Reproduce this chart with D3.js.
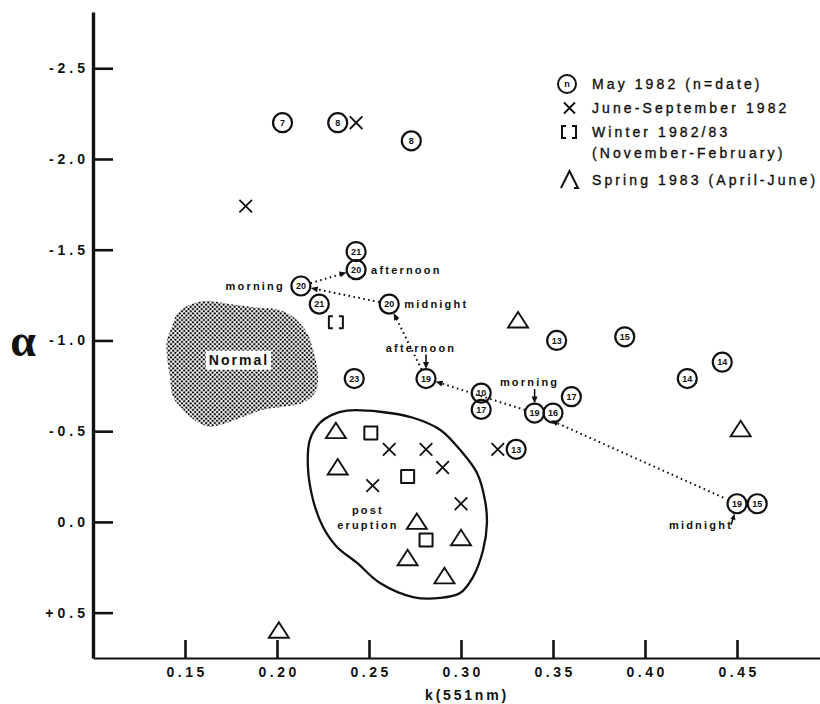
<!DOCTYPE html>
<html><head><meta charset="utf-8">
<script src="https://cdn.jsdelivr.net/npm/d3@7/dist/d3.min.js"></script>
<style>
body{margin:0;background:#fff;}
svg{display:block;font-family:"Liberation Sans",Arial,Helvetica,sans-serif;}
</style></head><body>
<svg id="chart" width="820" height="704"></svg>
<script>
// ---------------- DATA ----------------
const xTicks = [0.15, 0.20, 0.25, 0.30, 0.35, 0.40, 0.45];
const xTickLabels = ["0.15", "0.20", "0.25", "0.30", "0.35", "0.40", "0.45"];
const yTicks = [-2.5, -2.0, -1.5, -1.0, -0.5, 0.0, 0.5];
const yTickLabels = ["-2.5", "-2.0", "-1.5", "-1.0", "-0.5", "0.0", "+0.5"];
const xTitle = "k(551nm)";
const yTitle = "\u03B1";

// May 1982 (n = date): id, day label, k, alpha
const may1982 = [
  {id: "m7",     day: "7",  k: 0.203, a: -2.20},
  {id: "m8a",    day: "8",  k: 0.233, a: -2.20},
  {id: "m8b",    day: "8",  k: 0.273, a: -2.10},
  {id: "m21a",   day: "21", k: 0.243, a: -1.49},
  {id: "m20aft", day: "20", k: 0.243, a: -1.39},
  {id: "m20mor", day: "20", k: 0.213, a: -1.30},
  {id: "m21b",   day: "21", k: 0.223, a: -1.20},
  {id: "m20mid", day: "20", k: 0.261, a: -1.20},
  {id: "m13a",   day: "13", k: 0.352, a: -1.00},
  {id: "m15a",   day: "15", k: 0.389, a: -1.02},
  {id: "m14a",   day: "14", k: 0.442, a: -0.88},
  {id: "m14b",   day: "14", k: 0.423, a: -0.79},
  {id: "m23",    day: "23", k: 0.242, a: -0.79},
  {id: "m19aft", day: "19", k: 0.281, a: -0.79},
  {id: "m10",    day: "10", k: 0.311, a: -0.71},
  {id: "m17a",   day: "17", k: 0.311, a: -0.62},
  {id: "m17b",   day: "17", k: 0.360, a: -0.69},
  {id: "m19mor", day: "19", k: 0.340, a: -0.60},
  {id: "m16",    day: "16", k: 0.350, a: -0.60},
  {id: "m13b",   day: "13", k: 0.330, a: -0.40},
  {id: "m19mid", day: "19", k: 0.450, a: -0.10},
  {id: "m15b",   day: "15", k: 0.461, a: -0.10}
];

// June-September 1982
const juneSep1982 = [
  {k: 0.243, a: -2.20}, {k: 0.183, a: -1.74}, {k: 0.320, a: -0.40},
  {k: 0.261, a: -0.40}, {k: 0.281, a: -0.40}, {k: 0.290, a: -0.30},
  {k: 0.252, a: -0.20}, {k: 0.300, a: -0.10}
];

// Winter 1982/83 (first one drawn as "[ ]")
const winter1982 = [
  {k: 0.232, a: -1.10, bracket: true},
  {k: 0.251, a: -0.49}, {k: 0.271, a: -0.25}, {k: 0.281, a: 0.10}
];

// Spring 1983 (April-June)
const spring1983 = [
  {k: 0.331, a: -1.11}, {k: 0.452, a: -0.51}, {k: 0.232, a: -0.50},
  {k: 0.233, a: -0.30}, {k: 0.276, a: 0.00}, {k: 0.300, a: 0.09},
  {k: 0.271, a: 0.20}, {k: 0.291, a: 0.30}, {k: 0.201, a: 0.60}
];

// diurnal sequence (19 May midnight -> 20 May afternoon)
const diurnalSequence = ["m19mid", "m19mor", "m19aft", "m20mid", "m20mor", "m20aft"];

const annotations = [
  {text: "afternoon", at: "m20aft", side: "right"},
  {text: "midnight",  at: "m20mid", side: "right"},
  {text: "morning",   at: "m20mor", side: "left"},
  {text: "afternoon", at: "m19aft", side: "above"},
  {text: "morning",   at: "m19mor", side: "above"},
  {text: "midnight",  at: "m19mid", side: "below"}
];

// outline of the "Normal" (stippled) region, [k, alpha]
const normalRegion = [
  [0.1462,-1.153],[0.1582,-1.214],[0.1761,-1.198],[0.1891,-1.181],[0.2000,-1.170],
  [0.2087,-1.131],[0.2163,-1.043],[0.2196,-0.949],[0.2217,-0.855],[0.2223,-0.784],
  [0.2207,-0.712],[0.2141,-0.657],[0.2033,-0.635],[0.1924,-0.618],[0.1815,-0.579],
  [0.1728,-0.546],[0.1636,-0.524],[0.1565,-0.552],[0.1489,-0.618],[0.1435,-0.690],
  [0.1418,-0.800],[0.1402,-0.911],[0.1402,-1.004],[0.1429,-1.076]
];
// outline of the "post eruption" region, [k, alpha]
const postEruptionRegion = [
  [0.2299,-0.590],[0.2380,-0.613],[0.2560,-0.607],[0.2739,-0.574],[0.2886,-0.508],
  [0.2995,-0.397],[0.3087,-0.270],[0.3130,-0.121],[0.3141,0.006],[0.3120,0.155],
  [0.3065,0.304],[0.2995,0.392],[0.2886,0.419],[0.2739,0.414],[0.2560,0.337],
  [0.2435,0.226],[0.2326,0.138],[0.2250,0.028],[0.2196,-0.121],[0.2168,-0.304],
  [0.2179,-0.453],[0.2234,-0.546]
];
const regionLabels = [
  {lines: ["Normal"], k: 0.1788, a: -0.894},
  {lines: ["post", "eruption"], k: 0.2489, a: -0.066}
];

const legendLabels = ["May 1982 (n=date)", "June-September 1982", "Winter 1982/83", "(November-February)", "Spring 1983 (April-June)"];

// ---------------- DRAW ----------------
const INK = "#111";
const svg = d3.select("#chart");
const x = d3.scaleLinear().domain([0.10, 0.495]).range([93, 819.8]);
const y = d3.scaleLinear().domain([-2.81, 0.75]).range([12, 658]);

const defs = svg.append("defs");
const pat = defs.append("pattern").attr("id", "stip").attr("width", 3.1).attr("height", 3.1)
  .attr("patternUnits", "userSpaceOnUse").attr("patternTransform", "rotate(45)");
pat.append("circle").attr("cx", 1.55).attr("cy", 1.55).attr("r", 1.15).attr("fill", "#000");

// Normal region
const blobLine = d3.line().x(d => x(d[0])).y(d => y(d[1])).curve(d3.curveCatmullRomClosed.alpha(0.5));
svg.append("path").attr("d", blobLine(normalRegion)).attr("fill", "url(#stip)").attr("stroke", "none");

// Post eruption boundary
svg.append("path").attr("d", blobLine(postEruptionRegion)).attr("fill", "none")
  .attr("stroke", INK).attr("stroke-width", 2.3);

// Region labels
regionLabels.forEach((r, i) => {
  const g = svg.append("g");
  if (i === 0) {
    const t = g.append("text").attr("x", x(r.k) + 1).attr("y", y(r.a) + 5)
      .attr("text-anchor", "middle").attr("font-size", 14).attr("font-weight", "bold")
      .attr("letter-spacing", "2px").attr("fill", INK).text(r.lines[0]);
    const bb = t.node().getBBox();
    g.insert("rect", "text").attr("x", bb.x - 3).attr("y", bb.y - 1)
      .attr("width", bb.width + 5).attr("height", bb.height + 3).attr("fill", "#fff");
  } else {
    r.lines.forEach((ln, j) => {
      g.append("text").attr("x", x(r.k) + 1).attr("y", y(r.a) + 4 + j * 15)
        .attr("text-anchor", "middle").attr("font-size", 11).attr("font-weight", "bold")
        .attr("letter-spacing", "2.2px").attr("fill", INK).text(ln);
    });
  }
});

// Axes
const gx = svg.append("g").attr("transform", "translate(0,658)")
  .call(d3.axisBottom(x).tickValues(xTicks).tickFormat((d, i) => xTickLabels[i])
    .tickSizeInner(-18).tickSizeOuter(0).tickPadding(9));
gx.attr("font-family", null).attr("font-size", null);
gx.select(".domain").attr("stroke", INK).attr("stroke-width", 2.2);
gx.selectAll(".tick line").attr("stroke", INK).attr("stroke-width", 2.6);
gx.selectAll(".tick text").attr("font-size", 14).attr("font-weight", "bold")
  .attr("letter-spacing", "3.5px").attr("dx", "1.7").attr("fill", INK);

const gy = svg.append("g").attr("transform", "translate(93,0)")
  .call(d3.axisLeft(y).tickValues(yTicks).tickFormat((d, i) => yTickLabels[i])
    .tickSizeInner(-20).tickSizeOuter(0).tickPadding(4));
gy.attr("font-family", null).attr("font-size", null);
gy.select(".domain").attr("stroke", INK).attr("stroke-width", 3.4);
gy.selectAll(".tick line").attr("stroke", INK).attr("stroke-width", 2.6);
gy.selectAll(".tick text").attr("font-size", 14).attr("font-weight", "bold")
  .attr("letter-spacing", "4px").attr("fill", INK);

svg.append("text").attr("x", 467).attr("y", 700).attr("text-anchor", "middle")
  .attr("font-size", 14).attr("font-weight", "bold").attr("letter-spacing", "2.8px")
  .attr("fill", INK).text(xTitle);
svg.append("text").attr("x", 23).attr("y", 356).attr("text-anchor", "middle")
  .attr("font-family", "'Liberation Serif','Times New Roman',serif")
  .attr("font-size", 46).attr("font-weight", "bold").attr("fill", INK).text(yTitle);

// Diurnal dotted path with arrowheads
const byId = {};
may1982.forEach(d => byId[d.id] = d);
function arrowHead(g, tx, ty, ux, uy, len, half) {
  const bx = tx - ux * len, by = ty - uy * len;
  const px = -uy, py = ux;
  g.append("path")
    .attr("d", `M${tx},${ty}L${bx + px * half},${by + py * half}L${bx - px * half},${by - py * half}Z`)
    .attr("fill", INK);
}
const linkG = svg.append("g");
for (let i = 0; i < diurnalSequence.length - 1; i++) {
  const a = byId[diurnalSequence[i]], b = byId[diurnalSequence[i + 1]];
  const x0 = x(a.k), y0 = y(a.a), x1 = x(b.k), y1 = y(b.a);
  const L = Math.hypot(x1 - x0, y1 - y0), ux = (x1 - x0) / L, uy = (y1 - y0) / L;
  const s = i === 0 ? 15 : 10, e = i === 0 ? 18 : 10;
  const tx = x1 - ux * e, ty = y1 - uy * e;
  linkG.append("line")
    .attr("x1", x0 + ux * s).attr("y1", y0 + uy * s)
    .attr("x2", tx - ux * 5).attr("y2", ty - uy * 5)
    .attr("stroke", INK).attr("stroke-width", 2).attr("stroke-dasharray", "1.6 3.4");
  arrowHead(linkG, tx, ty, ux, uy, 7, 3);
}

// Annotations
const annG = svg.append("g").attr("font-size", 11).attr("font-weight", "bold")
  .attr("letter-spacing", "2.2px").attr("fill", INK);
annotations.forEach(an => {
  const p = byId[an.at], cx = x(p.k), cy = y(p.a);
  let tx, ty, anchor;
  if (an.side === "right") { tx = cx + 15; ty = cy + 4; anchor = "start"; }
  else if (an.side === "left") { tx = cx - 16; ty = cy + 4; anchor = "end"; }
  else if (an.side === "above") { tx = cx - 5; ty = cy - 27; anchor = "middle"; }
  else { tx = cx - 36; ty = cy + 25; anchor = "middle"; }
  annG.append("text").attr("x", tx).attr("y", ty).attr("text-anchor", anchor).text(an.text);
  if (an.side === "above") {
    annG.append("line").attr("x1", cx).attr("y1", cy - 24).attr("x2", cx).attr("y2", cy - 14)
      .attr("stroke", INK).attr("stroke-width", 1.6);
    arrowHead(annG, cx, cy - 9.5, 0, 1, 7, 3);
  } else if (an.side === "below") {
    annG.append("line").attr("x1", cx - 6).attr("y1", cy + 21).attr("x2", cx - 4).attr("y2", cy + 15)
      .attr("stroke", INK).attr("stroke-width", 1.6);
    const L = Math.hypot(3, 11);
    arrowHead(annG, cx - 2.5, cy + 10, 3 / L, -11 / L, 6, 2.6);
  }
});

// May 1982 circles
const mayG = svg.append("g");
const mg = mayG.selectAll("g").data(may1982).join("g")
  .attr("transform", d => `translate(${x(d.k)},${y(d.a)})`);
mg.append("circle").attr("r", 9.5).attr("fill", "none").attr("stroke", INK).attr("stroke-width", 2.2);
mg.append("text").attr("text-anchor", "middle").attr("dy", "0.36em").attr("font-size", 9)
  .attr("font-weight", "bold").attr("fill", INK).text(d => d.day);

// June-September crosses
const xs = 6.3;
svg.append("g").selectAll("path").data(juneSep1982).join("path")
  .attr("d", d => { const cx = x(d.k), cy = y(d.a);
    return `M${cx - xs},${cy - xs}L${cx + xs},${cy + xs}M${cx - xs},${cy + xs}L${cx + xs},${cy - xs}`; })
  .attr("stroke", INK).attr("stroke-width", 1.8).attr("fill", "none");

// Winter squares / bracket
const bracketPath = (cx, cy) =>
  `M${cx - 3},${cy - 6}H${cx - 7}V${cy + 6}H${cx - 3}M${cx + 3},${cy - 6}H${cx + 7}V${cy + 6}H${cx + 3}`;
svg.append("g").selectAll("path").data(winter1982).join("path")
  .attr("d", d => { const cx = x(d.k), cy = y(d.a);
    if (d.bracket) return bracketPath(cx, cy);
    return `M${cx - 6.5},${cy - 6.5}h13v13h-13Z`; })
  .attr("stroke", INK).attr("stroke-width", 2).attr("fill", "none").attr("stroke-linejoin", "round");

// Spring triangles
svg.append("g").selectAll("path").data(spring1983).join("path")
  .attr("d", d => { const cx = x(d.k), cy = y(d.a);
    return `M${cx},${cy - 8.5}L${cx + 10},${cy + 7}L${cx - 10},${cy + 7}Z`; })
  .attr("stroke", INK).attr("stroke-width", 1.9).attr("fill", "none").attr("stroke-linejoin", "miter");

// Legend
const lg = svg.append("g").attr("fill", INK);
const rowsY = [84, 108, 132, 153, 180];
lg.append("circle").attr("cx", 567).attr("cy", rowsY[0]).attr("r", 9).attr("fill", "none")
  .attr("stroke", INK).attr("stroke-width", 2);
lg.append("text").attr("x", 567).attr("y", rowsY[0]).attr("dy", "0.3em").attr("text-anchor", "middle")
  .attr("font-size", 9).attr("font-weight", "bold").text("n");
lg.append("path").attr("d", `M${564},${rowsY[1] - 5.5}L${575},${rowsY[1] + 5.5}M${564},${rowsY[1] + 5.5}L${575},${rowsY[1] - 5.5}`)
  .attr("stroke", INK).attr("stroke-width", 1.8).attr("fill", "none");
lg.append("path").attr("d", bracketPath(569, rowsY[2])).attr("stroke", INK).attr("stroke-width", 2).attr("fill", "none");
lg.append("path").attr("d", `M${561},${rowsY[4] + 8}L${569.5},${rowsY[4] - 9}L${578},${rowsY[4] + 8}H${574}`)
  .attr("stroke", INK).attr("stroke-width", 2).attr("fill", "none");
legendLabels.forEach((t, i) => {
  lg.append("text").attr("x", 592).attr("y", rowsY[i] + 5).attr("font-size", 14)
    .attr("letter-spacing", "3.1px").attr("stroke", INK).attr("stroke-width", 0.35).text(t);
});
</script>
</body></html>
